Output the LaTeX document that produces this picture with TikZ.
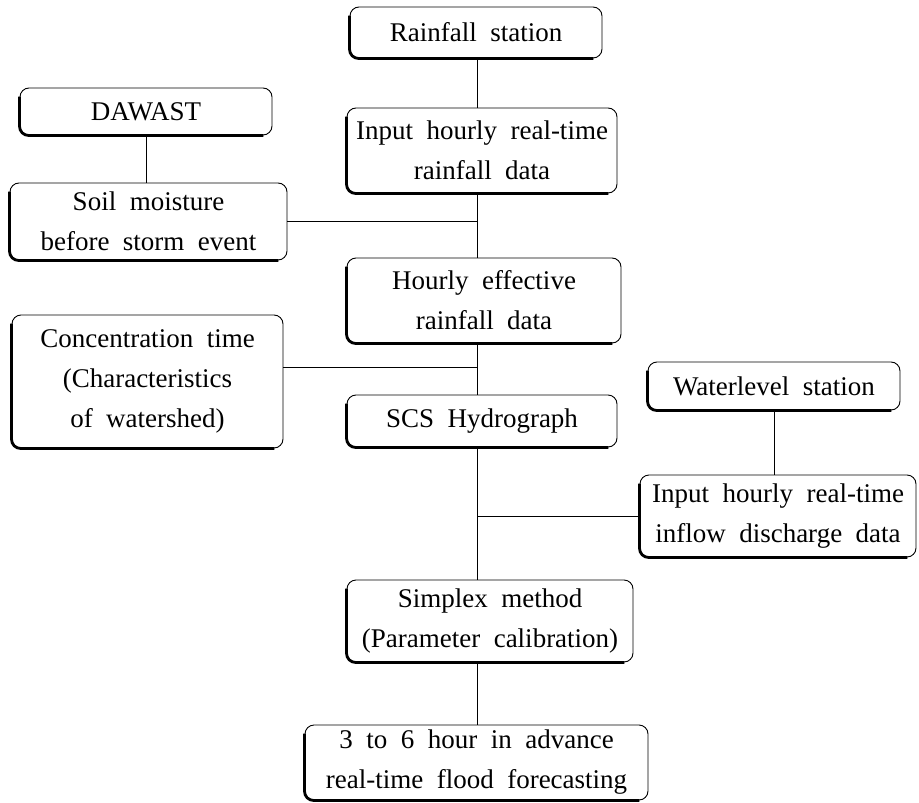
\documentclass[tikz,border=0pt]{standalone}
\usepackage{fontspec}
\setmainfont{Liberation Serif}
\newcommand\myboxfont{\fontsize{27}{40}\selectfont\spaceskip 0.5em plus 0.1em\relax}
\begin{document}
\begin{tikzpicture}[x=1pt,y=-1pt,
  box/.style={draw, line width=0.9pt, rounded corners=9pt, align=center, inner sep=0pt,
    font=\myboxfont},
  link/.style={line width=0.9pt},
  boxshade/.style={line width=2.8pt, rounded corners=9pt}]
\useasboundingbox (0,0) rectangle (919,803);
\coordinate (spine) at (477,0);
\node[box, minimum width=252pt, minimum height=51pt] (rs) at (476,32.5) {Rainfall station};
\node[box, minimum width=252pt, minimum height=47pt] (daw) at (146,111.5) {DAWAST};
\node[box, minimum width=270pt, minimum height=85pt] (inr) at (482,150.5) {Input hourly real-time\\rainfall data};
\node[box, minimum width=277pt, minimum height=77pt] (soil) at (148.5,221.5) {Soil moisture\\before storm event};
\node[box, minimum width=274pt, minimum height=85pt] (her) at (484,300.5) {Hourly effective\\rainfall data};
\node[box, minimum width=271pt, minimum height=133pt] (conc) at (147.5,381.5) {Concentration time\\(Characteristics\\of watershed)};
\node[box, minimum width=270pt, minimum height=52pt] (scs) at (482,421) {SCS Hydrograph};
\node[box, minimum width=252pt, minimum height=48pt] (wl) at (774,386) {Waterlevel station};
\node[box, minimum width=276pt, minimum height=82pt] (inf) at (778,516) {Input hourly real-time\\inflow discharge data};
\node[box, minimum width=286pt, minimum height=82pt] (simp) at (490,621) {Simplex method\\(Parameter calibration)};
\node[box, minimum width=343pt, minimum height=75pt] (fc) at (476.5,762.5) {3 to 6 hour in advance\\real-time flood forecasting};
\foreach \n in {rs,daw,inr,soil,her,conc,scs,wl,inf,simp,fc}
  \draw[boxshade] ([yshift=-9pt]\n.north west) -- (\n.south west) -- ([xshift=-9pt]\n.south east);
\draw[link] (rs.south -| spine) -- (inr.north -| spine);
\draw[link] (inr.south -| spine) -- (her.north -| spine);
\draw[link] (her.south -| spine) -- (scs.north -| spine);
\draw[link] (scs.south -| spine) -- (simp.north -| spine);
\draw[link] (simp.south -| spine) -- (fc.north -| spine);
\draw[link] (daw.south) -- (daw.south |- soil.north);
\draw[link] (soil.east) -- (soil.east -| spine);
\draw[link] ([yshift=14pt]conc.east) -- ([yshift=14pt]conc.east -| spine);
\draw[link] (wl.south) -- (wl.south |- inf.north);
\draw[link] (inf.west) -- (inf.west -| spine);
\end{tikzpicture}
\end{document}
